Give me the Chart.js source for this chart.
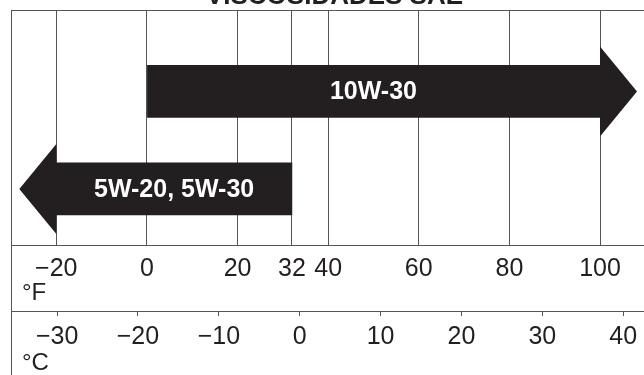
<!DOCTYPE html>
<html>
<head>
<meta charset="utf-8">
<script src="https://cdn.jsdelivr.net/npm/chart.js@4/dist/chart.umd.min.js"></script>
<style>
  body { margin: 0; background: #fff; }
  #wrap { width: 644px; height: 375px; overflow: hidden; position: relative; }
  canvas { display: block; }
</style>
</head>
<body>
<div id="wrap"><canvas id="myChart" width="658" height="375"></canvas></div>
<script>
// oil grades and the temperature range each one covers (in °F), arrow points to "toF"
const grades = ['10W-30', '5W-20, 5W-30'];
const rows = [1, 2];
const fromF = [0, 32];
const toF = [100, -20];

// tick labels of the two temperature bands
const fTicks = [-20, 0, 20, 32, 40, 60, 80, 100];
const cTicks = [-30, -20, -10, 0, 10, 20, 30, 40];

const ink = '#231f20';
const lineCol = '#555555';
const font = "'Liberation Sans', Arial, Helvetica, sans-serif";

function minus(v) {
    return v < 0 ? '\u2212' + Math.abs(v) : String(v);
}

const arrowPlugin = {
    id: 'arrows',
    afterDatasetsDraw(chart, args, opts) {
        let ctx = chart.ctx;
        let xs = chart.scales.xF;
        let meta = chart.getDatasetMeta(0);
        let raw = chart.data.datasets[0].data;
        meta.data.forEach((bar, i) => {
            let y = bar.getProps(['y'], true).y;
            let start = xs.getPixelForValue(raw[i].x[0]);
            let end = xs.getPixelForValue(raw[i].x[1]);
            let dir = end > start ? 1 : -1;
            ctx.save();
            ctx.fillStyle = ink;
            ctx.beginPath();
            ctx.moveTo(end, y - opts.headHalf);
            ctx.lineTo(end + dir * opts.headLength, y);
            ctx.lineTo(end, y + opts.headHalf);
            ctx.closePath();
            ctx.fill();
            ctx.fillStyle = '#ffffff';
            ctx.font = 'bold 25px ' + font;
            ctx.textAlign = 'center';
            ctx.textBaseline = 'middle';
            ctx.fillText(chart.data.labels[i], (start + end) / 2, y + 1);
            ctx.restore();
        });
    }
};

const framePlugin = {
    id: 'frame',
    afterDraw(chart) {
        let ctx = chart.ctx;
        let area = chart.chartArea;
        let xF = chart.scales.xF;
        let xC = chart.scales.xC;
        ctx.save();
        ctx.strokeStyle = lineCol;
        ctx.lineWidth = 1;
        ctx.beginPath();
        ctx.moveTo(area.left, Math.round(area.top) + 0.5);
        ctx.lineTo(area.right, Math.round(area.top) + 0.5);
        ctx.moveTo(Math.round(area.left) + 0.5, area.top);
        ctx.lineTo(Math.round(area.left) + 0.5, chart.height);
        ctx.stroke();
        ctx.fillStyle = ink;
        ctx.font = '24px ' + font;
        ctx.textAlign = 'left';
        ctx.textBaseline = 'alphabetic';
        ctx.fillText('\u00b0F', area.left + 11, xF.top + 55);
        ctx.fillText('\u00b0C', area.left + 11, xC.top + 59);
        ctx.restore();
    }
};

let ctx = document.getElementById('myChart').getContext('2d');
let chart = new Chart(ctx, {
    type: 'bar',
    data: {
        labels: grades,
        datasets: [{
            data: rows.map((r, i) => ({ y: r, x: [fromF[i], toF[i]] })),
            backgroundColor: ink,
            borderWidth: 0,
            barThickness: 52,
            xAxisID: 'xF',
            yAxisID: 'y'
        }]
    },
    options: {
        indexAxis: 'y',
        responsive: false,
        animation: false,
        layout: { padding: { left: 11, right: 0, top: 0, bottom: 0 } },
        plugins: {
            legend: { display: false },
            tooltip: { enabled: false },
            title: {
                display: true,
                text: 'VISCOSIDADES SAE',
                color: ink,
                font: { family: font, size: 26, weight: 'bold' },
                padding: { top: -18.5, bottom: -2.7 }
            },
            arrows: { headLength: 37, headHalf: 45 }
        },
        scales: {
            y: {
                type: 'linear',
                min: 0.165,
                max: 2.575,
                reverse: true,
                offset: false,
                display: false
            },
            xF: {
                type: 'linear',
                position: 'bottom',
                weight: 1,
                min: -30,
                max: 112.8,
                afterBuildTicks: (s) => { s.ticks = fTicks.map(v => ({ value: v })); },
                afterFit: (s) => { s.height = 66; },
                ticks: {
                    autoSkip: false,
                    maxRotation: 0,
                    padding: 9,
                    color: ink,
                    font: { family: font, size: 25 },
                    callback: (v) => minus(v)
                },
                grid: { color: lineCol, lineWidth: 1, drawTicks: false },
                border: { display: true, color: lineCol, width: 1 }
            },
            xC: {
                type: 'linear',
                position: 'bottom',
                weight: 2,
                min: -35.7,
                max: 44.3,
                afterBuildTicks: (s) => { s.ticks = cTicks.map(v => ({ value: v })); },
                afterFit: (s) => { s.height = 64; },
                ticks: {
                    autoSkip: false,
                    maxRotation: 0,
                    padding: 6,
                    color: ink,
                    font: { family: font, size: 25 },
                    callback: (v) => minus(v)
                },
                grid: { color: lineCol, lineWidth: 1, drawOnChartArea: false, drawTicks: true, tickLength: 5 },
                border: { display: true, color: lineCol, width: 1 }
            }
        }
    },
    plugins: [arrowPlugin, framePlugin]
});
</script>
</body>
</html>
